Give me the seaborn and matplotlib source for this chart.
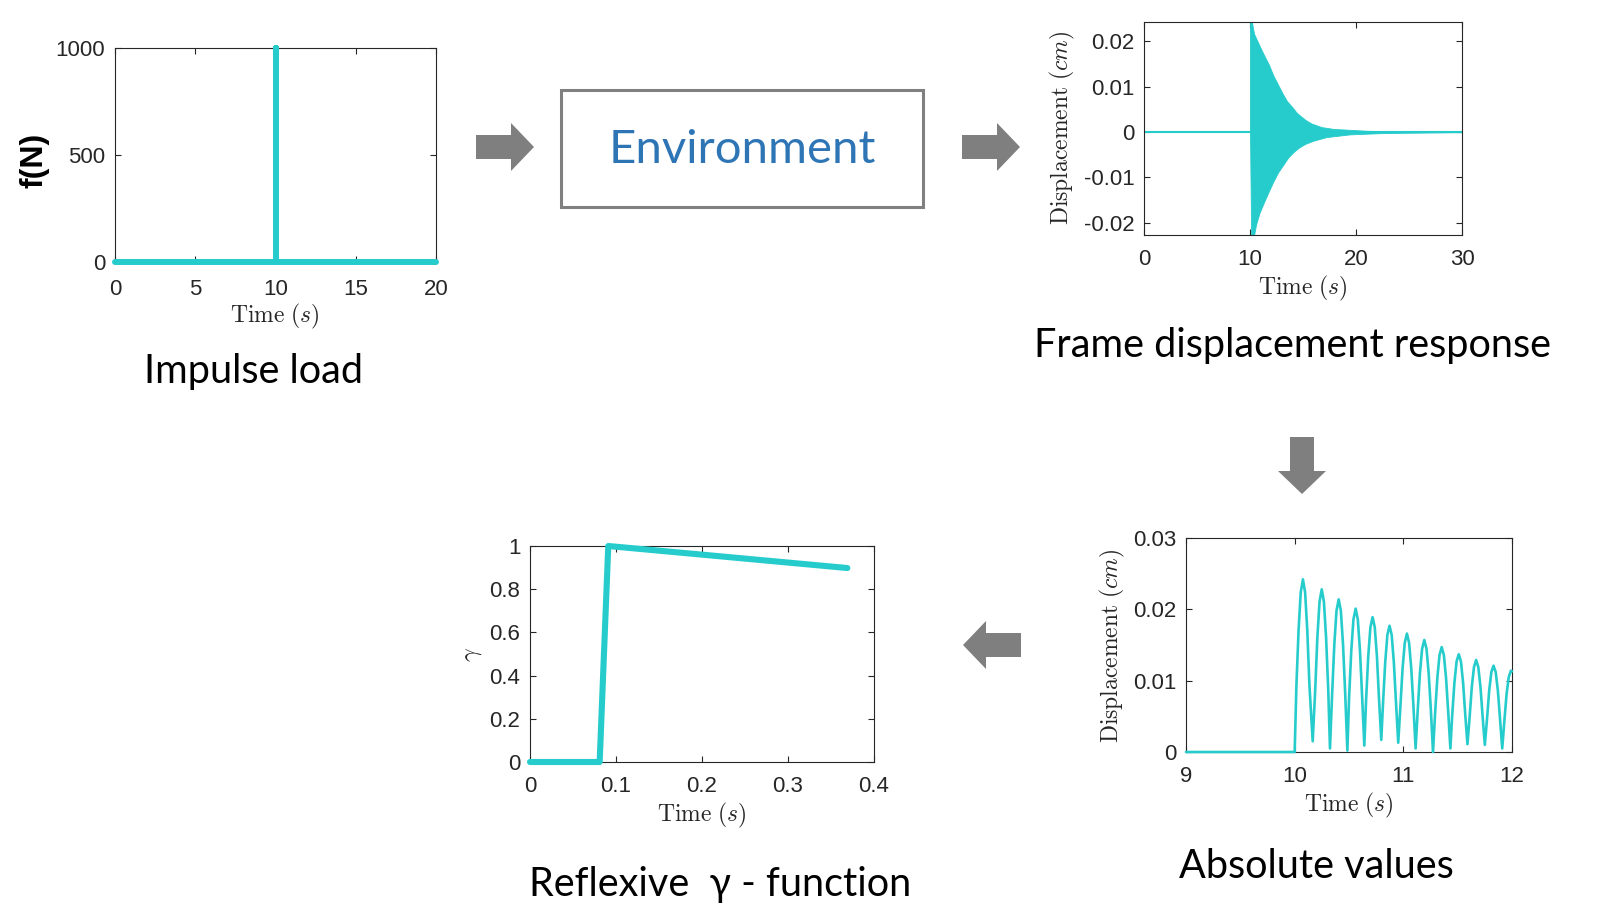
import numpy as np
import seaborn as sns
import matplotlib.pyplot as plt
from matplotlib.patches import Rectangle, Polygon
from matplotlib.ticker import FuncFormatter

sns.set_theme(style='white')
plt.rcParams['font.family'] = ['Liberation Sans', 'DejaVu Sans']
plt.rcParams['mathtext.fontset'] = 'cm'
plt.rcParams['axes.unicode_minus'] = False

TEAL = '#26CCCC'
GREY = '#7F7F7F'
INK = '#262626'

# impulse load
impulse_t = [0, 10, 10, 10, 20]
impulse_f = [0, 0, 1000, 0, 0]

zero_t = [0, 30]
zero_y = [0, 0]
env_up_t = [10.0, 10.05, 10.38, 10.85, 11.32, 11.76, 12.2, 12.64, 13.08, 13.5,
            13.96, 14.4, 14.9, 15.35, 15.8, 16.76, 17.9, 19.5, 21.0, 24.0, 30.0]
env_up = [0.026, 0.026, 0.0217, 0.0193, 0.0170, 0.0150, 0.0125, 0.0105, 0.0085, 0.0068,
          0.0056, 0.0043, 0.0033, 0.0025, 0.0019, 0.0011, 0.0007, 0.0005, 0.0003, 0.0001, 0.0]
env_lo_t = [10.0, 10.12, 10.2, 10.57, 10.9, 11.26, 11.73, 12.2, 12.67, 13.14, 13.6,
            14.1, 14.56, 15.2, 15.97, 17.2, 19.4, 22.6, 30.0]
env_lo = [0.0, -0.025, -0.025, -0.0204, -0.0178, -0.0158, -0.0133, -0.0109, -0.0088, -0.0072, -0.0056,
          -0.0044, -0.0035, -0.0026, -0.0019, -0.0011, -0.0005, -0.0002, 0.0]

# absolute values, 9 s to 12 s (one arch per row)
abs_t = [9.000, 10.000,
         10.016, 10.036, 10.056, 10.076, 10.096, 10.116, 10.136, 10.166,
         10.189, 10.209, 10.229, 10.249, 10.269, 10.289, 10.309, 10.325,
         10.345, 10.365, 10.385, 10.405, 10.425, 10.445, 10.465, 10.485,
         10.501, 10.521, 10.541, 10.561, 10.581, 10.601, 10.621, 10.641,
         10.657, 10.677, 10.697, 10.717, 10.737, 10.757, 10.777, 10.797,
         10.813, 10.833, 10.853, 10.873, 10.893, 10.913, 10.933, 10.953,
         10.973, 10.993, 11.013, 11.033, 11.053, 11.073, 11.093, 11.113,
         11.133, 11.153, 11.173, 11.193, 11.213, 11.233, 11.253, 11.273,
         11.293, 11.313, 11.333, 11.353, 11.373, 11.393, 11.413, 11.433,
         11.450, 11.470, 11.490, 11.510, 11.530, 11.550, 11.570, 11.590,
         11.610, 11.630, 11.650, 11.670, 11.690, 11.710, 11.730, 11.750,
         11.770, 11.790, 11.810, 11.830, 11.850, 11.870, 11.890, 11.910,
         11.930, 11.950, 11.970, 11.990, 12.000]
abs_y = [0.0, 0.0,
         0.0093, 0.0171, 0.0224, 0.0242, 0.0224, 0.0171, 0.0093, 0.0015,
         0.0087, 0.0161, 0.0211, 0.0228, 0.0211, 0.0161, 0.0087, 0.0005,
         0.0082, 0.0151, 0.0198, 0.0214, 0.0198, 0.0151, 0.0082, 0.0002,
         0.0077, 0.0142, 0.0186, 0.0201, 0.0186, 0.0142, 0.0077, 0.0009,
         0.0072, 0.0134, 0.0175, 0.0189, 0.0175, 0.0134, 0.0072, 0.0017,
         0.0068, 0.0125, 0.0164, 0.0177, 0.0164, 0.0125, 0.0068, 0.0013,
         0.0064, 0.0117, 0.0153, 0.0166, 0.0153, 0.0117, 0.0064, 0.0005,
         0.0060, 0.0111, 0.0145, 0.0157, 0.0145, 0.0111, 0.0060, 0.0000,
         0.0056, 0.0104, 0.0136, 0.0147, 0.0136, 0.0104, 0.0056, 0.0005,
         0.0052, 0.0097, 0.0127, 0.0137, 0.0127, 0.0097, 0.0052, 0.0011,
         0.0049, 0.0091, 0.0119, 0.0129, 0.0119, 0.0091, 0.0049, 0.0010,
         0.0046, 0.0086, 0.0112, 0.0121, 0.0112, 0.0086, 0.0046, 0.0005,
         0.0044, 0.0081, 0.0105, 0.0114, 0.0113]

# reflexive gamma function
gamma_t = [0, 0.081, 0.091, 0.369]
gamma_v = [0, 0, 1.0, 0.898]

W, H = 1616, 910
fig = plt.figure(figsize=(W / 100, H / 100), dpi=100)

# overlay in pixel coordinates for arrows, box and captions
ov = fig.add_axes([0, 0, 1, 1])
ov.set_xlim(0, W)
ov.set_ylim(H, 0)
ov.axis('off')


def px_axes(l, t, r, b):
    return fig.add_axes([l / W, (H - b) / H, (r - l) / W, (b - t) / H])


def style(ax, xt, yt, xl, yl, xpad=10):
    ax.set_xlim(*xl)
    ax.set_ylim(*yl)
    ax.set_xticks(xt)
    ax.set_yticks(yt)
    fmt = FuncFormatter(lambda v, p: f'{v:g}')
    ax.xaxis.set_major_formatter(fmt)
    ax.yaxis.set_major_formatter(fmt)
    ax.tick_params(direction='in', length=4, width=0.8, top=True, right=True,
                   bottom=True, left=True, labelsize=16, labelcolor=INK, color=INK)
    ax.tick_params(axis='x', pad=xpad)
    ax.tick_params(axis='y', pad=7)
    for s in ax.spines.values():
        s.set_color(INK)
        s.set_linewidth(0.8)
    ax.set_xlabel('')
    ax.set_ylabel('')


# panel 1
ax1 = px_axes(115, 48, 436, 262)
sns.lineplot(x=impulse_t, y=impulse_f, sort=False, estimator=None, ax=ax1,
             color=TEAL, linewidth=4.3, clip_on=False, solid_capstyle='round', zorder=3)
style(ax1, [0, 5, 10, 15, 20], [0, 500, 1000], (0, 20), (0, 1000), xpad=12)

# panel 2
ax2 = px_axes(1144, 22, 1462, 235)
ax2.fill_between(env_up_t, 0, env_up, color=TEAL, linewidth=0.6, edgecolor=TEAL)
ax2.fill_between(env_lo_t, env_lo, 0, color=TEAL, linewidth=0.6, edgecolor=TEAL)
sns.lineplot(x=zero_t, y=zero_y, ax=ax2, color=TEAL, linewidth=1.5)
style(ax2, [0, 10, 20, 30], [-0.02, -0.01, 0, 0.01, 0.02], (0, 30), (-0.0227, 0.0243))

# panel 3
ax3 = px_axes(1186, 538, 1512, 752)
sns.lineplot(x=abs_t, y=abs_y, sort=False, estimator=None, ax=ax3,
             color=TEAL, linewidth=1.9, clip_on=False, zorder=3)
style(ax3, [9, 10, 11, 12], [0, 0.01, 0.02, 0.03], (9, 12), (0, 0.03))

# panel 4
ax4 = px_axes(530, 546, 874, 762)
sns.lineplot(x=gamma_t, y=gamma_v, sort=False, estimator=None, ax=ax4,
             color=TEAL, linewidth=4.4, clip_on=False, zorder=3)
style(ax4, [0, 0.1, 0.2, 0.3, 0.4], [0, 0.2, 0.4, 0.6, 0.8, 1], (0, 0.4), (0, 1))

# axis labels
tl = r'$\mathrm{Time}\ (s)$'
dl = r'$\mathrm{Displacement}\ (cm)$'
ov.text(275, 322, tl, fontsize=17, ha='center', va='baseline', color=INK)
ov.text(1303, 294, tl, fontsize=17, ha='center', va='baseline', color=INK)
ov.text(1349, 811, tl, fontsize=17, ha='center', va='baseline', color=INK)
ov.text(702, 821, tl, fontsize=17, ha='center', va='baseline', color=INK)
ov.text(35, 160, 'f(N)', fontsize=23, fontweight='bold', rotation=90,
        ha='center', va='center', color='black')
ov.text(1062, 128, dl, fontsize=17, rotation=90, ha='center', va='center', color=INK)
ov.text(1112, 646, dl, fontsize=17, rotation=90, ha='center', va='center', color=INK)
ov.text(473, 655, r'$\gamma$', fontsize=17, rotation=90, ha='center', va='center', color=INK)

# environment box
ov.add_patch(Rectangle((561, 90), 362, 117, fill=False, edgecolor='#808080', linewidth=2.2))
ov.text(742, 150, 'Environment', fontsize=34, ha='center', va='center',
        color='#2E75B6', family=['Lato', 'DejaVu Sans'])


def arrow(tail, tip, c):
    # block arrow between two points along x or y
    sw, hw, hl = 12, 24, 23
    if tail[1] == tip[1]:
        d = 1 if tip[0] > tail[0] else -1
        x0, x1, y = tail[0], tip[0], tail[1]
        xb = x1 - d * hl
        pts = [(x0, y - sw), (xb, y - sw), (xb, y - hw), (x1, y), (xb, y + hw),
               (xb, y + sw), (x0, y + sw)]
    else:
        d = 1 if tip[1] > tail[1] else -1
        y0, y1, x = tail[1], tip[1], tail[0]
        yb = y1 - d * hl
        pts = [(x - sw, y0), (x - sw, yb), (x - hw, yb), (x, y1), (x + hw, yb),
               (x + sw, yb), (x + sw, y0)]
    ov.add_patch(Polygon(pts, closed=True, facecolor=c, edgecolor='none'))


arrow((476, 147), (534, 147), GREY)
arrow((962, 147), (1020, 147), GREY)
arrow((1302, 437), (1302, 494), GREY)
arrow((1021, 645), (963, 645), GREY)

# captions
cap = dict(fontsize=28.5, ha='center', va='baseline', color='black',
           family=['Lato', 'DejaVu Sans'])
ov.text(254, 383, 'Impulse load', **cap)
ov.text(1292, 357, 'Frame displacement response', **cap)
ov.text(1316, 878, 'Absolute values', **cap)
ov.text(720, 896, 'Reflexive  \u03b3 - function', **cap)

fig.savefig('out.png', dpi=100)
